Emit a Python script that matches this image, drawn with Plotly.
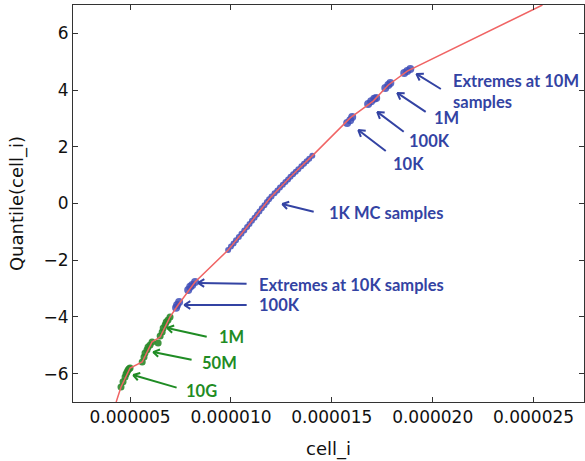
import math
import plotly.graph_objects as go

# ---------------- data ----------------
# red reference line (cell_i value, quantile)
line_x = [4.31e-6, 4.55e-6, 5.00e-6, 5.60e-6, 6.09e-6, 6.49e-6, 6.98e-6, 7.38e-6, 8.22e-6,
          9.86e-6, 10.80e-6, 11.94e-6, 12.94e-6, 14.03e-6, 15.91e-6, 17.05e-6, 17.80e-6,
          18.74e-6, 25.44e-6]
line_y = [-7.0, -6.47, -5.80, -5.59, -4.88, -4.71, -4.00, -3.58, -2.77,
          -1.64, -0.83, 0.195, 0.935, 1.68, 3.02, 3.61, 4.18,
          4.67, 7.0]

# 1K Monte-Carlo samples
mc_x = [9.86e-6, 10.00e-6, 10.13e-6, 10.25e-6, 10.39e-6, 10.52e-6, 10.66e-6, 10.80e-6,
        10.92e-6, 11.04e-6, 11.17e-6, 11.29e-6, 11.41e-6, 11.53e-6, 11.66e-6, 11.78e-6,
        11.89e-6, 12.01e-6, 12.16e-6, 12.30e-6, 12.43e-6, 12.57e-6, 12.70e-6, 12.83e-6,
        12.95e-6, 13.08e-6, 13.21e-6, 13.34e-6, 13.49e-6, 13.62e-6, 13.75e-6, 13.88e-6,
        14.03e-6]
mc_y = [-1.64, -1.52, -1.41, -1.30, -1.18, -1.07, -0.95, -0.83,
        -0.72, -0.61, -0.50, -0.39, -0.28, -0.17, -0.06, 0.05,
        0.15, 0.25, 0.36, 0.46, 0.56, 0.66, 0.76, 0.85,
        0.94, 1.03, 1.12, 1.21, 1.31, 1.40, 1.49, 1.58,
        1.68]

# blue extreme clusters (lower and upper tails)
blue_x = [7.28e-6, 7.33e-6, 7.43e-6,                      # 100K (lower)
          7.88e-6, 7.98e-6, 8.08e-6, 8.22e-6,             # 10K (lower)
          15.76e-6, 15.91e-6, 16.01e-6,                   # 10K (upper)
          16.80e-6, 16.95e-6, 17.10e-6, 17.20e-6,         # 100K (upper)
          17.65e-6, 17.80e-6, 17.90e-6,                   # 1M (upper)
          18.59e-6, 18.74e-6, 18.89e-6]                   # 10M (upper)
blue_y = [-3.68, -3.58, -3.47,
          -3.05, -2.94, -2.87, -2.77,
          2.84, 2.94, 3.05,
          3.51, 3.61, 3.69, 3.72,
          4.07, 4.18, 4.25,
          4.60, 4.67, 4.74]

# green extreme clusters (lower tail)
green_x = [4.55e-6, 4.65e-6, 4.75e-6, 4.80e-6, 4.85e-6, 4.90e-6, 4.95e-6, 5.00e-6,   # 10G
           5.60e-6, 5.69e-6, 5.74e-6, 5.84e-6, 5.89e-6, 5.99e-6, 6.09e-6, 6.39e-6,   # 50M
           6.49e-6, 6.59e-6, 6.64e-6, 6.74e-6, 6.79e-6, 6.88e-6, 6.98e-6]           # 1M
green_y = [-6.47, -6.29, -6.12, -6.01, -5.94, -5.87, -5.83, -5.80,
           -5.59, -5.41, -5.27, -5.16, -5.06, -4.99, -4.88, -4.92,
           -4.67, -4.53, -4.39, -4.28, -4.18, -4.11, -4.00]

x_ticks = [5e-6, 10e-6, 15e-6, 20e-6, 25e-6]
y_ticks = [-6, -4, -2, 0, 2, 4, 6]

# annotation labels: (text, arrow head x, head y, tail dx px, tail dy px, text x, text y, colour)
BLUE = "#3343a3"
GREEN = "#1f8c24"
labels = [
    ("Extremes at 10M<br>samples", 19.19e-6, 4.57, 26, 16, 20.92e-6, 3.95, BLUE),
    ("1M", 18.24e-6, 3.90, 30, 20, 19.98e-6, 3.02, BLUE),
    ("100K", 17.25e-6, 3.23, 28, 21, 18.74e-6, 2.20, BLUE),
    ("10K", 16.31e-6, 2.59, 29, 22, 17.95e-6, 1.39, BLUE),
    ("1K MC samples", 12.54e-6, -0.02, 33, 8, 14.77e-6, -0.33, BLUE),
    ("Extremes at 10K samples", 8.37e-6, -2.80, 50, 1, 11.30e-6, -2.87, BLUE),
    ("100K", 7.68e-6, -3.58, 64, 0, 11.30e-6, -3.58, BLUE),
    ("1M", 6.84e-6, -4.39, 41, 9, 9.32e-6, -4.71, GREEN),
    ("50M", 6.14e-6, -5.24, 40, 8, 8.47e-6, -5.62, GREEN),
    ("10G", 5.15e-6, -6.05, 45, 13, 7.68e-6, -6.61, GREEN),
]

# ---------------- figure ----------------
fig = go.Figure()
fig.add_trace(go.Scatter(x=mc_x, y=mc_y, mode="markers",
                         marker=dict(size=6, color="#3f4fb8", opacity=0.85, line=dict(width=0)),
                         hoverinfo="skip"))
fig.add_trace(go.Scatter(x=blue_x, y=blue_y, mode="markers",
                         marker=dict(size=8, color="#3f4fb8", opacity=0.85, line=dict(width=0)),
                         hoverinfo="skip"))
fig.add_trace(go.Scatter(x=green_x, y=green_y, mode="markers",
                         marker=dict(size=7, color="#2a8a2a", opacity=0.9, line=dict(width=0)),
                         hoverinfo="skip"))
fig.add_trace(go.Scatter(x=line_x, y=line_y, mode="lines",
                         line=dict(color="#f06464", width=1.5), hoverinfo="skip"))

annotations = []
for text, hx, hy, dx, dy, tx, ty, col in labels:
    annotations.append(dict(x=hx, y=hy, xref="x", yref="y", ax=dx, ay=dy, text="",
                            showarrow=True, arrowhead=0, arrowwidth=2, arrowcolor=col))
    n = math.hypot(dx, dy)
    ux, uy = dx / n, dy / n
    for ang in (math.radians(32), math.radians(-32)):
        bx = (ux * math.cos(ang) - uy * math.sin(ang)) * 9
        by = (ux * math.sin(ang) + uy * math.cos(ang)) * 9
        annotations.append(dict(x=hx, y=hy, xref="x", yref="y", ax=bx, ay=by, text="",
                                showarrow=True, arrowhead=0, arrowwidth=2, arrowcolor=col))
    annotations.append(dict(x=tx, y=ty, xref="x", yref="y", text=text, showarrow=False,
                            xanchor="left", yanchor="middle", align="left",
                            font=dict(family="Lato", size=16.5, color=col, weight="bold")))

fig.update_layout(
    width=585, height=461,
    margin=dict(l=73, r=1, t=5, b=59),
    paper_bgcolor="white", plot_bgcolor="white",
    showlegend=False,
    annotations=annotations,
    font=dict(family="DejaVu Sans", color="#111"),
)
fig.update_xaxes(
    range=[2.17e-6, 27.5e-6], tickvals=x_ticks, tickformat=".6f", automargin=False,
    ticks="inside", ticklen=5, tickcolor="#333", showline=True, linecolor="#333", linewidth=1,
    mirror="ticks", showgrid=False, zeroline=False,
    tickfont=dict(size=17, family="DejaVu Sans", color="#111"),
    title=dict(text="cell_i", font=dict(size=18, family="DejaVu Sans", color="#111")),
)
fig.update_yaxes(
    range=[-7, 7], tickvals=y_ticks, automargin=False,
    ticks="inside", ticklen=5, tickcolor="#333", showline=True, linecolor="#333", linewidth=1,
    mirror="ticks", showgrid=False, zeroline=False,
    tickfont=dict(size=17, family="DejaVu Sans", color="#111"),
    title=dict(text="Quantile(cell_i)", font=dict(size=18, family="DejaVu Sans", color="#111")),
)

fig.write_html("out.html", config={"displayModeBar": False},
               post_script="document.body.style.margin='0';document.body.style.overflow='hidden';")
